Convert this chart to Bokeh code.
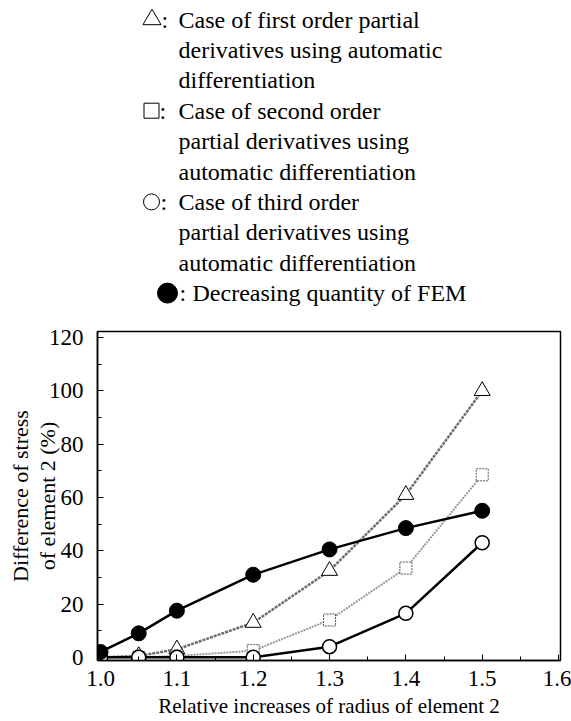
from bokeh.plotting import figure
from bokeh.layouts import column
from bokeh.models import Range1d, FixedTicker, NumeralTickFormatter
from bokeh.core.properties import value
from bokeh.embed import file_html
from bokeh.resources import INLINE

# ---- data ----
x_first = [1.0, 1.05, 1.1, 1.2, 1.3, 1.4, 1.5]
y_first = [0.0, 0.5, 3.0, 13.0, 32.5, 61.0, 100.0]
x_second = [1.0, 1.05, 1.1, 1.2, 1.3, 1.4, 1.5]
y_second = [0.0, 0.0, 0.5, 2.5, 14.0, 33.5, 68.5]
x_third = [1.0, 1.05, 1.1, 1.2, 1.3, 1.4, 1.5]
y_third = [0.0, 0.0, 0.0, 0.0, 4.0, 16.5, 43.0]
x_fem = [1.0, 1.05, 1.1, 1.2, 1.3, 1.4, 1.5]
y_fem = [2.0, 9.0, 17.5, 31.0, 40.5, 48.5, 55.0]

x_ticks = [1.0, 1.1, 1.2, 1.3, 1.4, 1.5, 1.6]
x_minor = [1.05, 1.15, 1.25, 1.35, 1.45, 1.55]
y_ticks = [0, 20, 40, 60, 80, 100, 120]
y_minor = [10, 30, 50, 70, 90, 110]

legend_first = ["Case of first order partial", "derivatives using  automatic", "differentiation"]
legend_second = ["Case of second order", "partial derivatives using", "automatic differentiation"]
legend_third = [" Case of third order", "partial derivatives using", "automatic differentiation"]
legend_fem = ["Decreasing quantity of FEM"]

FONT = "Liberation Serif"
W = 571
LEG_H = 310
PLOT_H = 411
LEFT = 97
RIGHT = 11

# ---- legend figure (frame aligned with main plot; data units = page pixels) ----
leg = figure(width=W, height=LEG_H, output_backend="svg", toolbar_location=None,
             x_range=Range1d(LEFT, W - RIGHT), y_range=Range1d(LEG_H, 0),
             x_axis_location=None, y_axis_location=None,
             min_border_left=LEFT, min_border_right=RIGHT, min_border_top=0, min_border_bottom=0,
             outline_line_color=None)
leg.grid.visible = False

LINE_H = 30.4
TXT_X = 178
FS = "24px"


def txt(x, y, s):
    leg.text(x=[x], y=[y], text=[s], text_font=value(FONT), text_font_size=FS,
             text_baseline="middle", text_align="left", text_color="black")


def block(lines, row0, sym_x, sym_kw, colon_x, text_x):
    y = 19 + row0 * LINE_H
    leg.scatter(x=[sym_x], y=[y], **sym_kw)
    txt(colon_x, y, ":")
    txt(text_x, y, lines[0])
    for k, s in enumerate(lines[1:], start=1):
        txt(TXT_X, y + k * LINE_H, s)


block(legend_first, 0, 151.5, dict(marker="triangle", size=18, fill_color=None,
                                   line_color="black", line_width=1), 161, 178)
block(legend_second, 3, 151, dict(marker="square", size=15, fill_color=None,
                                  line_color="black", line_width=1), 159, 178)
block(legend_third, 6, 151, dict(marker="circle", size=16, fill_color=None,
                                 line_color="black", line_width=1), 160, 178)
block(legend_fem, 9, 167, dict(marker="circle", size=20, fill_color="black",
                               line_color="black", line_width=1), 179, 192)

# ---- main plot ----
p = figure(width=W, height=PLOT_H, output_backend="svg", toolbar_location=None,
           x_range=Range1d(0.996, 1.6026), y_range=Range1d(-1.2, 122.3),
           min_border_top=21, min_border_bottom=61, min_border_left=LEFT, min_border_right=RIGHT,
           outline_line_color="black", outline_line_width=1.5)
p.grid.visible = False

p.line(x_first, y_first, line_color="#6e6e6e", line_width=2.5, line_dash="3 1")
p.scatter(x_first, y_first, marker="triangle", size=16, fill_color="white",
          line_color="black", line_width=1)

p.line(x_second, y_second, line_color="#9a9a9a", line_width=2, line_dash="2 1")
p.scatter(x_second, y_second, marker="square", size=12, fill_color="white",
          line_color="#555555", line_width=1, line_dash="2 1")

p.line(x_third, y_third, line_color="black", line_width=2.5)
p.scatter(x_third, y_third, marker="circle", size=14, fill_color="white",
          line_color="black", line_width=1.5)

p.line(x_fem, y_fem, line_color="black", line_width=2.5)
p.scatter(x_fem, y_fem, marker="circle", size=15, fill_color="black",
          line_color="black", line_width=1)

p.xaxis.ticker = FixedTicker(ticks=x_ticks, minor_ticks=x_minor)
p.yaxis.ticker = FixedTicker(ticks=y_ticks, minor_ticks=y_minor)
p.xaxis.formatter = NumeralTickFormatter(format="0.0")

for ax in (p.xaxis[0], p.yaxis[0]):
    ax.major_tick_in = 6
    ax.major_tick_out = 0
    ax.minor_tick_in = 4
    ax.minor_tick_out = 0
    ax.axis_line_width = 1.5
    ax.axis_line_color = "black"
    ax.major_tick_line_color = "black"
    ax.minor_tick_line_color = "black"
    ax.major_label_text_font = FONT
    ax.major_label_text_font_size = "23px"
    ax.major_label_text_color = "black"
    ax.axis_label_text_font = FONT
    ax.axis_label_text_font_style = "normal"
    ax.axis_label_text_color = "black"

p.xaxis.major_label_standoff = 10
p.yaxis.major_label_standoff = 14
p.xaxis.axis_label = "Relative increases of radius of element 2"
p.xaxis.axis_label_text_font_size = "21px"
p.xaxis.axis_label_standoff = 5
p.yaxis.axis_label = "Difference of stress\nof element 2 (%)"
p.yaxis.axis_label_text_font_size = "22px"
p.yaxis.axis_label_text_line_height = 1.1
p.yaxis.axis_label_standoff = -14

layout = column(leg, p, spacing=0)
open("out.html", "w").write(file_html(layout, INLINE))
